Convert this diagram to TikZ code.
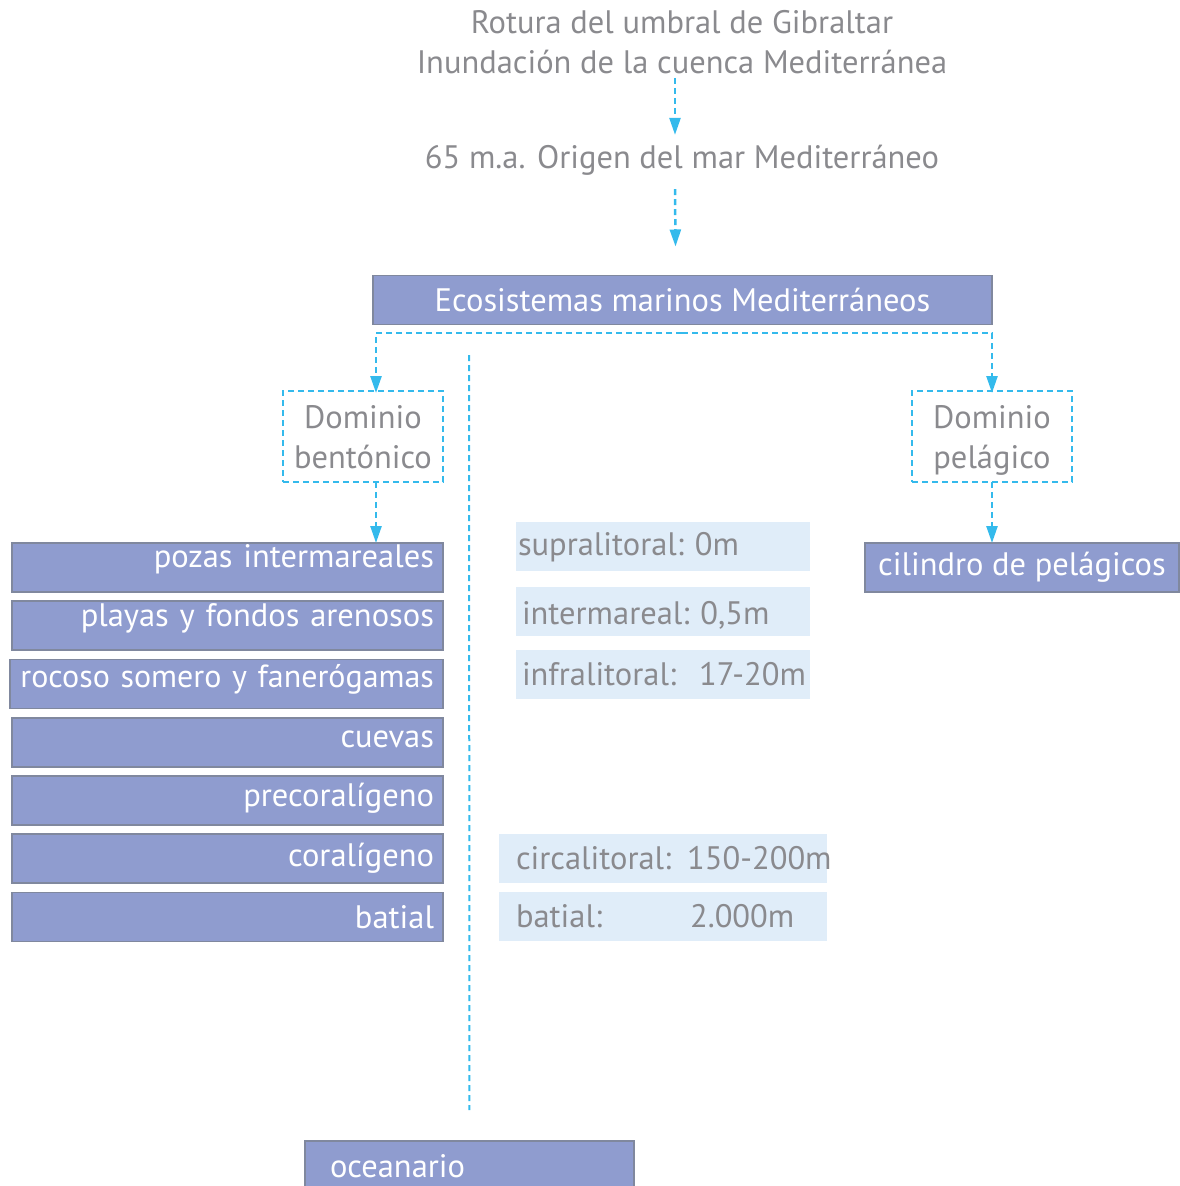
\documentclass[tikz,border=0pt]{standalone}
\usepackage{fontspec}
\setmainfont{PT Sans}
\usetikzlibrary{shapes,arrows.meta}
\definecolor{boxfill}{RGB}{143,156,207}
\definecolor{boxline}{RGB}{128,136,158}
\definecolor{lightfill}{RGB}{224,237,249}
\definecolor{textgray}{RGB}{138,138,142}
\definecolor{linkblue}{RGB}{52,186,236}
\tikzset{font=\fontsize{32.5}{40}\selectfont}
\newcommand{\lift}[2]{\raisebox{#1}[\height][\depth]{#2}}

\begin{document}
\begin{tikzpicture}
  [x=1pt, y=-1pt, every node/.style={inner sep=0pt, outer sep=0pt},
  plain/.style={text=textgray, align=center},
  catbox/.style={rectangle, draw=boxline, line width=1.2pt, fill=boxfill, text=white, minimum height=49pt},
  rcatbox/.style={catbox, align=right, text width=413pt, minimum width=431pt},
  zonebox/.style={rectangle, fill=lightfill, text=textgray, align=left, minimum height=49pt},
  domainbox/.style={rectangle, draw=linkblue, line width=2pt, dash pattern=on 6pt off 4pt, text=textgray, align=center, minimum width=160pt, minimum height=91pt},
  line/.style={draw=linkblue, line width=2.5pt, dash pattern=on 6pt off 4pt, -{Triangle[length=17pt,width=11pt]}}]
  \useasboundingbox (0,0) rectangle (1179,1186);

  % heading
  \node [plain] (rotura) at (682,42) {Rotura del umbral de Gibraltar\\Inundación de la cuenca Mediterránea};
  \node [plain] (origen) at (682,160) {65 m.a. Origen del mar Mediterráneo};
  \node [catbox, minimum width=619pt] (eco) at (682.5,300) {Ecosistemas marinos Mediterráneos};

  % domains
  \node [domainbox] (bentonico) at (363,436.5) {\rule{0pt}{36pt}Dominio\\bentónico\strut};
  \node [domainbox] (pelagico) at (992,436.5) {\rule{0pt}{36pt}Dominio\\pelágico\strut};
  \coordinate (split) at (682,333);
  \coordinate (axis) at (469,355);

  % benthic communities
  \node [rcatbox] (pozas) at (227.5,567.5) {\lift{8pt}{pozas intermareales}};
  \node [rcatbox] (playas) at (227.5,625.5) {\lift{7pt}{playas y fondos arenosos}};
  \node [rcatbox, minimum width=433pt, text width=415pt, font=\fontsize{32}{40}\selectfont] (rocoso) at (226.5,684) {\lift{5pt}{rocoso somero y fanerógamas}};
  \node [rcatbox] (cuevas) at (227.5,742.5) {\lift{3pt}{cuevas}};
  \node [rcatbox] (precor) at (227.5,800.5) {\lift{2pt}{precoralígeno}};
  \node [rcatbox] (coral) at (227.5,858.5) {coralígeno};
  \node [rcatbox] (batial) at (227.5,917) {batial};

  % depth zones
  \node [zonebox, text width=290pt, minimum width=294pt] (supra) at (663,546.5) {\lift{-1pt}{supralitoral:\ 0m}};
  \node [zonebox, text width=282pt, minimum width=294pt] (inter) at (663,611) {\lift{-4pt}{intermareal:\ 0,5m}};
  \node [zonebox, text width=282pt, minimum width=294pt] (infra) at (663,674) {\mbox{infralitoral:\hspace{23pt}17-20m}};
  \node [zonebox, text width=294pt, minimum width=328pt] (circa) at (663,858.5) {\mbox{circalitoral:\hspace{16pt}150-200m}};
  \node [zonebox, text width=294pt, minimum width=328pt] (batialz) at (663,916.5) {\mbox{batial:\hspace{88pt}2.000m}};

  % pelagic and oceanarium
  \node [catbox, minimum width=314pt] (cilindro) at (1022,567.5) {cilindro de pelágicos};
  \node [catbox, align=left, text width=279pt, minimum width=329pt, minimum height=50pt] (oceanario) at (469.5,1166) {oceanario};

  \begin{scope}[every path/.style=line]
    \path ([xshift=-7pt]rotura.south) ++(0,4) -- ([xshift=-7pt,yshift=10pt]origen.north);
    \path ([xshift=-7pt,yshift=-14pt]origen.south) -- ([xshift=-7pt,yshift=29pt]eco.north);
    \path (split) -| ([xshift=13pt,yshift=-2pt]bentonico.north);
    \path (split) -| ([yshift=-2pt]pelagico.north);
    \path ([xshift=13pt]bentonico.south) -- ([xshift=148.5pt]pozas.north);
    \path (pelagico.south) -- ([xshift=-30pt]cilindro.north);
    \path [-, line width=2pt, shorten >=31pt] (axis) -- (oceanario.north);
  \end{scope}
\end{tikzpicture}
\end{document}
